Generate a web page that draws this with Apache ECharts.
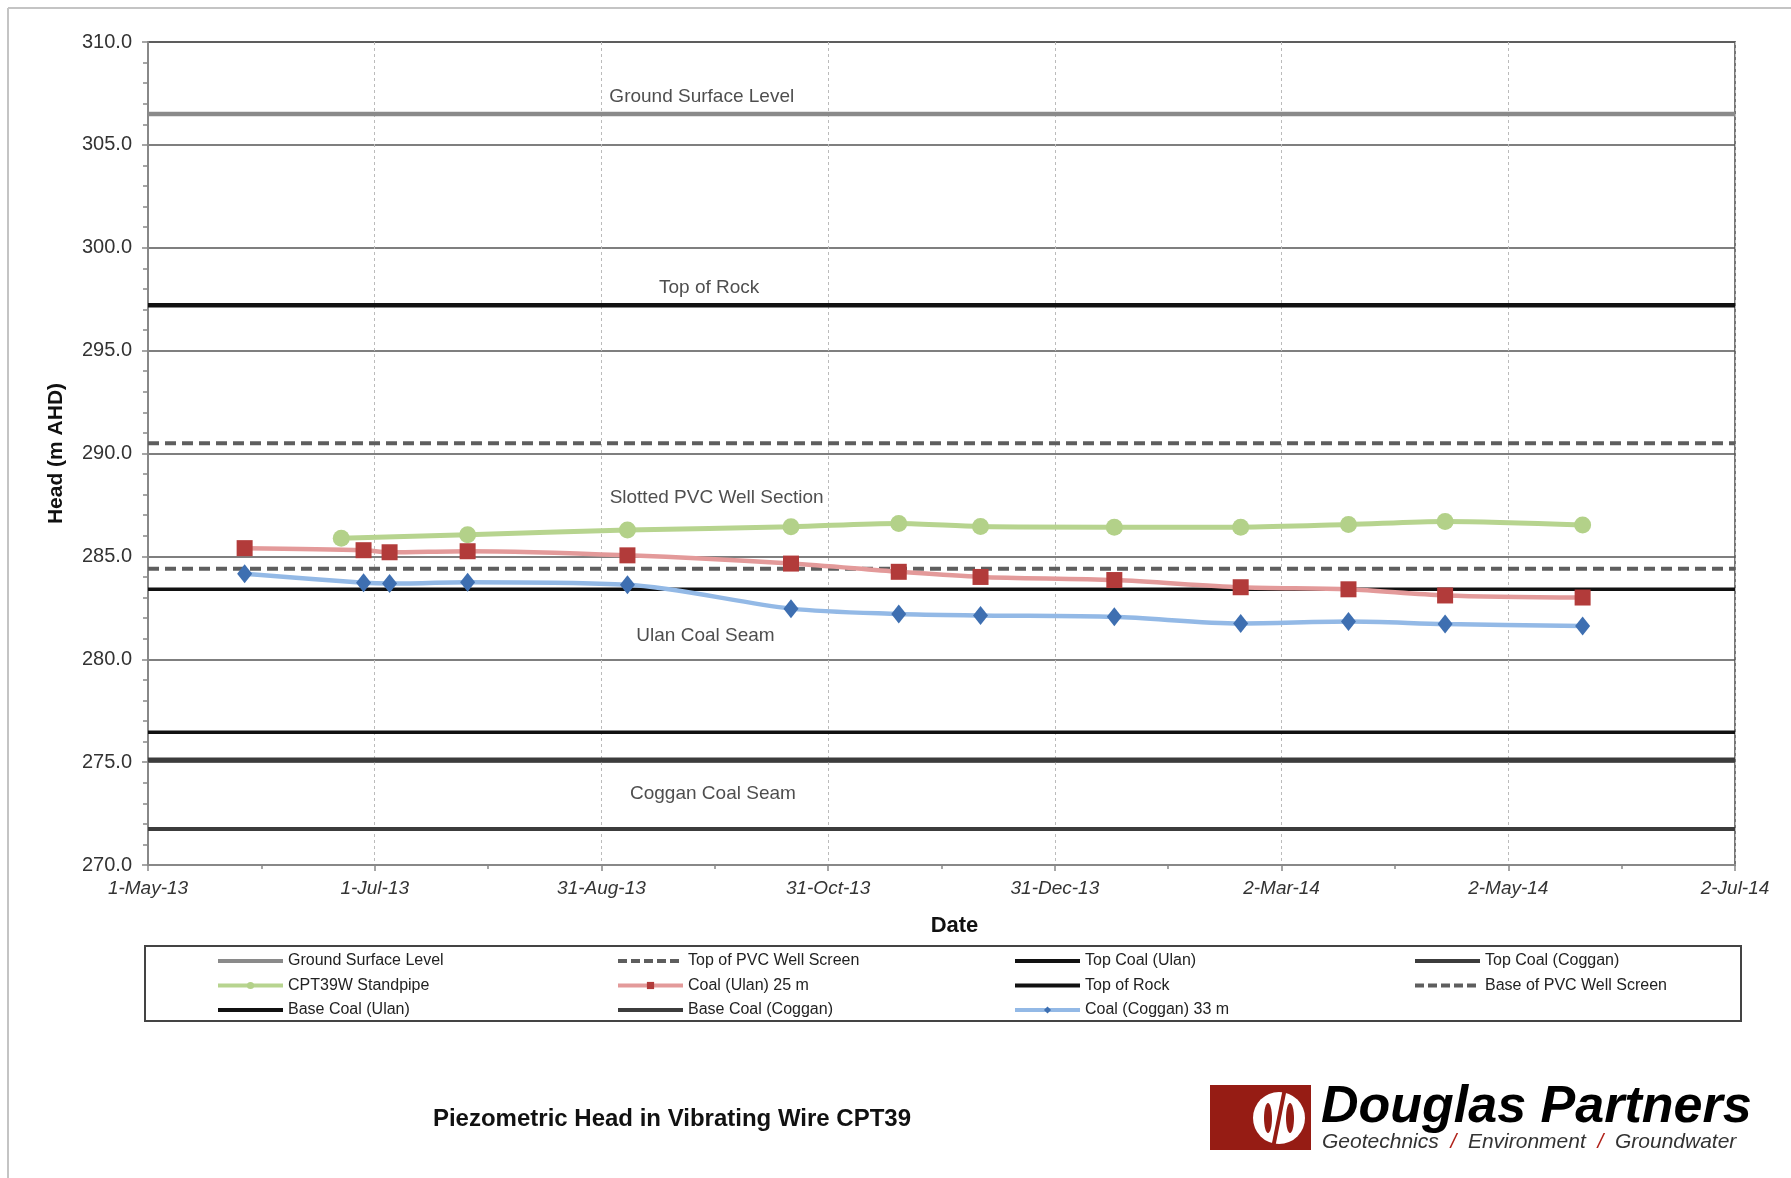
<!DOCTYPE html>
<html>
<head>
<meta charset="utf-8">
<script src="https://cdn.jsdelivr.net/npm/echarts@6/dist/echarts.min.js"></script>
<style>
  html, body { margin: 0; padding: 0; background: #fff; }
  #chart-container { width: 1791px; height: 1178px; }
</style>
</head>
<body>
<div id="chart-container"></div>
<script>
// axis ticks: every 61 days from 1-May-13
const startDate = '2013-05-01';
const endDate = '2014-07-02';
const xTickLabels = ['1-May-13', '1-Jul-13', '31-Aug-13', '31-Oct-13', '31-Dec-13', '2-Mar-14', '2-May-14', '2-Jul-14'];

// standpipe readings
const standpipeDates = ['2013-06-22', '2013-07-26', '2013-09-07', '2013-10-21', '2013-11-19', '2013-12-11',
    '2014-01-16', '2014-02-19', '2014-03-20', '2014-04-15', '2014-05-22'];
const standpipeHead = [285.88, 286.05, 286.28, 286.44, 286.6, 286.45, 286.42, 286.42, 286.55, 286.7, 286.52];

// vibrating wire readings
const vwDates = ['2013-05-27', '2013-06-28', '2013-07-05', '2013-07-26', '2013-09-07', '2013-10-21', '2013-11-19',
    '2013-12-11', '2014-01-16', '2014-02-19', '2014-03-20', '2014-04-15', '2014-05-22'];
const ulanHead = [285.4, 285.3, 285.2, 285.25, 285.05, 284.65, 284.25, 284.0, 283.85, 283.5, 283.4, 283.1, 283.0];
const cogganHead = [284.15, 283.72, 283.68, 283.74, 283.62, 282.46, 282.2, 282.13, 282.06, 281.74, 281.83, 281.71, 281.61];

// horizontal levels
const levelNames = ['Ground Surface Level', 'Top of PVC Well Screen', 'Top Coal (Ulan)', 'Top Coal (Coggan)',
    'Top of Rock', 'Base of PVC Well Screen', 'Base Coal (Ulan)', 'Base Coal (Coggan)'];
const levelValues = [306.5, 290.5, 283.4, 275.1, 297.2, 284.4, 276.45, 271.75];

// zone annotations
const zoneNames = ['Ground Surface Level', 'Top of Rock', 'Slotted PVC Well Section', 'Ulan Coal Seam', 'Coggan Coal Seam'];
const zoneDates = ['2013-09-27', '2013-09-29', '2013-10-01', '2013-09-28', '2013-09-30'];
const zoneHeads = [307.35, 298.05, 287.85, 281.15, 273.45];

const DAY = 86400000;
const dayOf = (s) => Math.round((Date.parse(s) - Date.parse(startDate)) / DAY);
const xMax = dayOf(endDate);

const FONT = "'Liberation Sans', Arial, sans-serif";

const levelStyle = {
    'Ground Surface Level': { color: '#8a8a8a', width: 4.5, type: 'solid' },
    'Top of PVC Well Screen': { color: '#5e5e5e', width: 4, type: [11, 6] },
    'Top Coal (Ulan)': { color: '#111', width: 3.5, type: 'solid' },
    'Top Coal (Coggan)': { color: '#3c3c3c', width: 5, type: 'solid' },
    'Top of Rock': { color: '#111', width: 4.5, type: 'solid' },
    'Base of PVC Well Screen': { color: '#5e5e5e', width: 4, type: [11, 6] },
    'Base Coal (Ulan)': { color: '#111', width: 3.5, type: 'solid' },
    'Base Coal (Coggan)': { color: '#3c3c3c', width: 4, type: 'solid' }
};

const chartDom = document.getElementById('chart-container');
const myChart = echarts.init(chartDom);

const levelSeries = levelNames.map((name, i) => ({
    name: name,
    type: 'line',
    data: [[0, levelValues[i]], [xMax, levelValues[i]]],
    symbol: 'none',
    silent: true,
    z: 2,
    lineStyle: levelStyle[name],
    itemStyle: { color: levelStyle[name].color }
}));

const pairs = (dates, vals) => dates.map((d, i) => [dayOf(d), vals[i]]);

// legend entries: level lines get no marker, a thick line, dashes where needed
const legendItem = (name) => {
    const st = levelStyle[name];
    if (st) {
        return {
            name: name,
            itemStyle: { opacity: 0 },
            lineStyle: { width: 4, color: st.color, type: st.type === 'solid' ? 'solid' : [9, 4] }
        };
    }
    return { name: name, lineStyle: { width: 4 } };
};

const legendBase = {
    orient: 'vertical',
    top: 948,
    itemWidth: 65,
    itemHeight: 9,
    itemGap: 8.5,
    selectedMode: false,
    textStyle: { fontFamily: FONT, fontSize: 16, color: '#222' }
};

const legendColumns = [
    ['Ground Surface Level', 'CPT39W Standpipe', 'Base Coal (Ulan)'],
    ['Top of PVC Well Screen', 'Coal (Ulan) 25 m', 'Base Coal (Coggan)'],
    ['Top Coal (Ulan)', 'Top of Rock', 'Coal (Coggan) 33 m'],
    ['Top Coal (Coggan)', 'Base of PVC Well Screen']
];
const legendLefts = [211, 611, 1008, 1408];

const option = {
    backgroundColor: '#fff',
    animation: false,
    grid: {
        left: 148,
        right: 56,
        top: 42,
        bottom: 313,
        show: true,
        borderColor: '#777',
        borderWidth: 2
    },
    legend: legendColumns.map((col, i) => Object.assign({}, legendBase, {
        left: legendLefts[i],
        data: col.map(legendItem)
    })),
    xAxis: {
        type: 'value',
        min: 0,
        max: xMax,
        interval: 61,
        name: 'Date',
        nameLocation: 'middle',
        nameGap: 50,
        nameTextStyle: { fontFamily: FONT, fontSize: 22, fontWeight: 'bold', color: '#111', padding: [0, 0, 0, 26] },
        axisLine: { lineStyle: { color: '#888', width: 2 } },
        axisTick: { show: true, length: 6, lineStyle: { color: '#888', width: 1.5 } },
        minorTick: { show: true, splitNumber: 2, length: 4, lineStyle: { color: '#888', width: 1.5 } },
        axisLabel: {
            margin: 14,
            fontFamily: FONT,
            fontSize: 19,
            fontStyle: 'italic',
            color: '#333',
            formatter: (v) => xTickLabels[Math.round(v / 61)]
        },
        splitLine: { show: true, lineStyle: { color: '#bbb', width: 1, type: [3, 3] } }
    },
    yAxis: {
        type: 'value',
        min: 270,
        max: 310,
        interval: 5,
        name: 'Head (m AHD)',
        nameLocation: 'middle',
        nameGap: 81,
        nameTextStyle: { fontFamily: FONT, fontSize: 21, fontWeight: 'bold', color: '#111' },
        axisLine: { show: true, lineStyle: { color: '#888', width: 2 } },
        axisTick: { show: true, length: 6, lineStyle: { color: '#888', width: 1.5 } },
        minorTick: { show: true, splitNumber: 5, length: 5, lineStyle: { color: '#888', width: 1.5 } },
        axisLabel: {
            margin: 16,
            fontFamily: FONT,
            fontSize: 20,
            color: '#333',
            formatter: (v) => v.toFixed(1)
        },
        splitLine: { show: true, lineStyle: { color: '#555', width: 1.5 } }
    },
    series: levelSeries.concat([
        {
            name: 'CPT39W Standpipe',
            type: 'line',
            data: pairs(standpipeDates, standpipeHead),
            smooth: 0.3,
            symbol: 'circle',
            symbolSize: 17,
            z: 5,
            lineStyle: { color: '#b7d48f', width: 5 },
            itemStyle: { color: '#b3d189' }
        },
        {
            name: 'Coal (Ulan) 25 m',
            type: 'line',
            data: pairs(vwDates, ulanHead),
            smooth: 0.3,
            symbol: 'rect',
            symbolSize: 16,
            z: 5,
            lineStyle: { color: '#e39a9a', width: 4.5 },
            itemStyle: { color: '#b23b3a' }
        },
        {
            name: 'Coal (Coggan) 33 m',
            type: 'line',
            data: pairs(vwDates, cogganHead),
            smooth: 0.3,
            symbol: 'diamond',
            symbolSize: [15, 19],
            z: 5,
            lineStyle: { color: '#93b9e6', width: 4.5 },
            itemStyle: { color: '#3e6fb1' }
        },
        {
            name: 'zones',
            type: 'scatter',
            data: zoneNames.map((n, i) => ({ name: n, value: [dayOf(zoneDates[i]), zoneHeads[i]] })),
            symbolSize: 1,
            silent: true,
            z: 6,
            itemStyle: { color: 'rgba(0,0,0,0)' },
            label: {
                show: true,
                position: 'inside',
                formatter: '{b}',
                fontFamily: FONT,
                fontSize: 19,
                color: '#222'
            }
        }
    ]),
    graphic: [
        // outer page frame
        { type: 'line', shape: { x1: 8, y1: 8, x2: 8, y2: 1178 }, style: { stroke: '#c4c4c4', lineWidth: 2 } },
        { type: 'line', shape: { x1: 8, y1: 8, x2: 1791, y2: 8 }, style: { stroke: '#c4c4c4', lineWidth: 2 } },
        // legend box
        { type: 'rect', shape: { x: 145, y: 946, width: 1596, height: 75 }, style: { fill: 'none', stroke: '#444', lineWidth: 2 } },
        // caption
        {
            type: 'text', x: 672, y: 1119,
            style: {
                text: 'Piezometric Head in Vibrating Wire CPT39',
                font: "bold 24px 'Liberation Sans', Arial, sans-serif",
                fill: '#111', align: 'center', verticalAlign: 'middle'
            }
        },
        // logo block
        { type: 'rect', shape: { x: 1210, y: 1085, width: 101, height: 65 }, style: { fill: '#961c14' } },
        { type: 'circle', shape: { cx: 1279, cy: 1118, r: 26 }, style: { fill: '#fff' } },
        { type: 'ellipse', shape: { cx: 1268, cy: 1118, rx: 4, ry: 15 }, style: { fill: '#961c14' } },
        { type: 'ellipse', shape: { cx: 1290, cy: 1118, rx: 4, ry: 15 }, style: { fill: '#961c14' } },
        { type: 'polygon', shape: { points: [[1283, 1088], [1287, 1088], [1275, 1148], [1271, 1148]] }, style: { fill: '#961c14' } },
        {
            type: 'text', x: 1321, y: 1108,
            style: {
                text: 'Douglas Partners',
                font: "italic bold 52px 'Liberation Sans', Arial, sans-serif",
                fill: '#000', verticalAlign: 'middle'
            }
        },
        {
            type: 'text', x: 1322, y: 1142,
            style: {
                text: '{g|Geotechnics  }{s|/}{g|  Environment  }{s|/}{g|  Groundwater}',
                verticalAlign: 'middle',
                rich: {
                    g: { font: "italic 21px 'Liberation Sans', Arial, sans-serif", fill: '#333' },
                    s: { font: "italic 21px 'Liberation Sans', Arial, sans-serif", fill: '#b0221a' }
                }
            }
        }
    ]
};

myChart.setOption(option);
</script>
</body>
</html>
